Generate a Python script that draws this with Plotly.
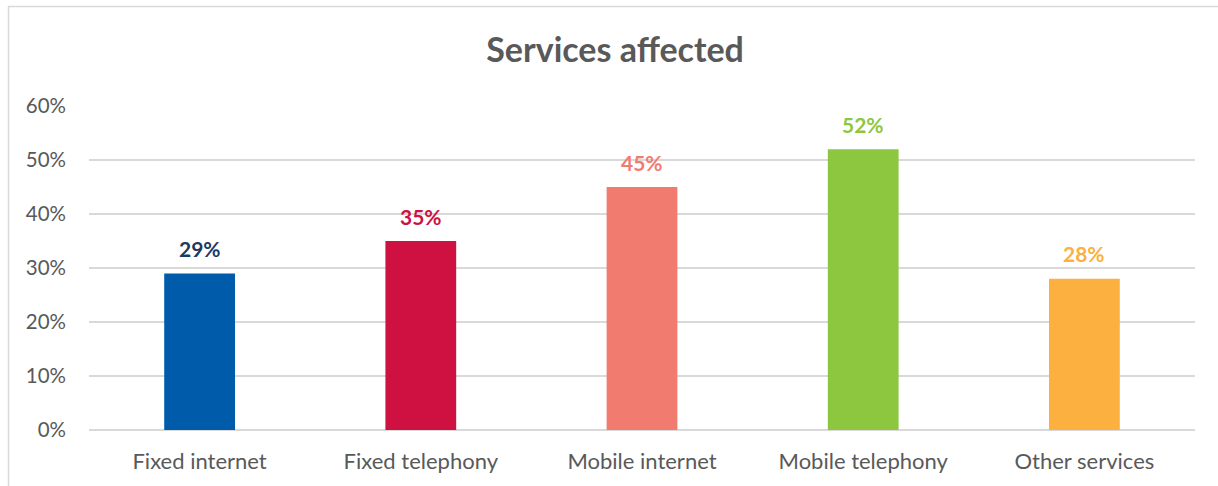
import plotly.graph_objects as go

categories = ["Fixed internet", "Fixed telephony", "Mobile internet", "Mobile telephony", "Other services"]
values = [0.29, 0.35, 0.45, 0.52, 0.28]
bar_colors = ["#005BAA", "#CE1141", "#F27B70", "#8DC63F", "#FBB040"]
label_colors = ["#203864", "#CE1141", "#F27B70", "#8DC63F", "#FBB040"]
y_ticks = [0, 0.1, 0.2, 0.3, 0.4, 0.5, 0.6]
y_tick_labels = ["0%", "10%", "20%", "30%", "40%", "50%", "60%"]

W, H = 1218, 486
ml, mr, mt, mb = 89, 23, 106, 56
FONT = "Lato"

fig = go.Figure()
fig.add_trace(go.Bar(
    x=categories, y=values,
    marker=dict(color=bar_colors, line=dict(width=0)),
    width=0.32,
))

for c, v, col in zip(categories, values, label_colors):
    fig.add_annotation(x=c, y=v, text="<b>%d%%</b>" % round(v * 100),
                       showarrow=False, yanchor="middle", yshift=25,
                       font=dict(color=col, size=21, family=FONT))

pw = W - ml - mr
ph = H - mt - mb
def px_x(x):
    return (x - ml) / pw
def px_y(y):
    return (H - mb - y) / ph

fig.update_layout(
    width=W, height=H,
    margin=dict(l=ml, r=mr, t=mt, b=mb),
    paper_bgcolor="white", plot_bgcolor="white",
    showlegend=False,
    title=dict(text="<b>Services affected</b>", x=0.505, xanchor="center",
               y=1 - 50 / H, yanchor="middle",
               font=dict(size=34, color="#595959", family=FONT)),
    font=dict(family=FONT, color="#595959", size=19),
    xaxis=dict(showgrid=False, showline=False, ticks="", ticklabelstandoff=16,
               tickfont=dict(size=22, color="#595959", family=FONT)),
    yaxis=dict(range=[0, 0.6], tickvals=y_ticks, ticktext=y_tick_labels,
               showgrid=True, gridcolor="#D9D9D9", gridwidth=1.5,
               zeroline=True, zerolinecolor="#D9D9D9", zerolinewidth=1.5,
               showline=False, ticks="", ticklabelstandoff=22,
               tickfont=dict(size=20.5, color="#595959", family=FONT)),
    shapes=[
        dict(type="line", xref="paper", yref="paper",
             x0=px_x(8.5), x1=px_x(8.5), y0=px_y(6.5), y1=px_y(490),
             line=dict(color="#D9D9D9", width=1.5)),
        dict(type="line", xref="paper", yref="paper",
             x0=px_x(8), x1=px_x(1222), y0=px_y(6.5), y1=px_y(6.5),
             line=dict(color="#D9D9D9", width=1.5)),
    ],
)

fig.write_html("out.html")
